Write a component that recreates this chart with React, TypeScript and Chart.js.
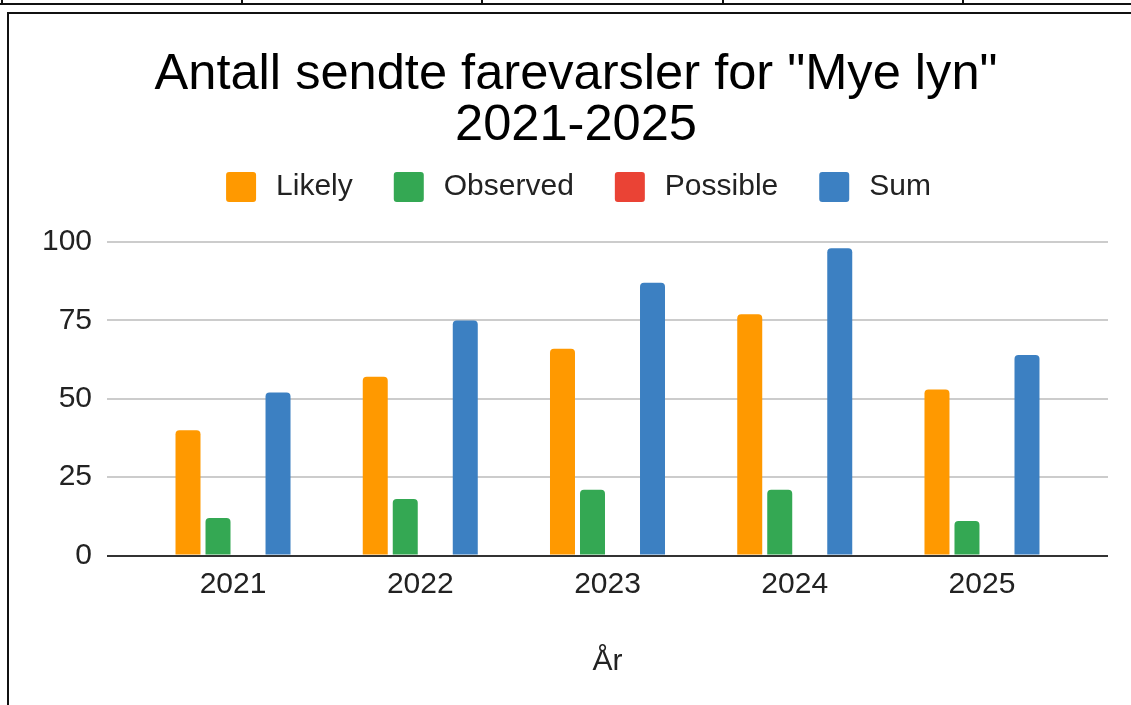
import React, { useEffect, useRef } from "react";
import { Chart, registerables } from "chart.js";

Chart.register(...registerables);

const YEARS = ["2021", "2022", "2023", "2024", "2025"];
const LIKELY = [40, 57, 66, 77, 53];
const OBSERVED = [12, 18, 21, 21, 11];
const POSSIBLE = [0, 0, 0, 0, 0];
const SUM = [52, 75, 87, 98, 64];
const Y_TICKS = [0, 25, 50, 75, 100];

const TITLE = ['Antall sendte farevarsler for "Mye lyn"', "2021-2025"];
const X_TITLE = "År";

const FONT = "'Liberation Sans', Arial, sans-serif";

export default function App() {
  const ref = useRef<HTMLCanvasElement | null>(null);

  useEffect(() => {
    if (!ref.current) return;
    const toPts = (arr: number[]) => arr.map((v, i) => ({ x: i, y: v }));
    const common = {
      categoryPercentage: 0.641,
      barPercentage: 0.833,
      borderRadius: 4,
      borderSkipped: "start" as const,
      borderWidth: 0,
    };
    const chart = new Chart(ref.current, {
      type: "bar",
      data: {
        datasets: [
          { label: "Likely", data: toPts(LIKELY), backgroundColor: "#ff9900", ...common },
          { label: "Observed", data: toPts(OBSERVED), backgroundColor: "#34a853", ...common },
          { label: "Possible", data: toPts(POSSIBLE), backgroundColor: "#ea4335", ...common },
          { label: "Sum", data: toPts(SUM), backgroundColor: "#3c80c2", ...common },
        ],
      },
      options: {
        animation: false,
        responsive: false,
        devicePixelRatio: 1,
        layout: { padding: { left: 35, right: 23, top: 0, bottom: 0 } },
        plugins: {
          tooltip: { enabled: false },
          title: {
            display: true,
            text: TITLE,
            color: "#000",
            font: { family: FONT, size: 50.6, weight: "normal", lineHeight: 1.008 },
            padding: { top: 36, bottom: -21 },
          },
          legend: {
            display: true,
            position: "top",
            labels: {
              color: "#222",
              font: { family: FONT, size: 30 },
              boxWidth: 40,
              boxHeight: 40,
              padding: 36,
              useBorderRadius: true,
              borderRadius: 8,
              generateLabels: (c: any) => {
                const items = Chart.defaults.plugins.legend.labels.generateLabels(c);
                return items.map((it: any) => ({
                  ...it,
                  lineWidth: 10,
                  strokeStyle: "#ffffff",
                  borderRadius: 8,
                }));
              },
            },
          },
        },
        scales: {
          x: {
            type: "linear",
            min: -0.673,
            max: 4.673,
            offset: false,
            afterBuildTicks: (s: any) => {
              s.ticks = YEARS.map((_, i) => ({ value: i }));
            },
            afterFit: (s: any) => {
              s.height = 149.5;
            },
            grid: { display: false, drawTicks: false },
            border: { display: false },
            ticks: {
              autoSkip: false,
              maxRotation: 0,
              padding: 11,
              color: "#222",
              font: { family: FONT, size: 30 },
              callback: (v: any) => YEARS[Math.round(Number(v))] ?? "",
            },
            title: {
              display: true,
              text: X_TITLE,
              color: "#222",
              font: { family: FONT, size: 30 },
              padding: { top: 0, bottom: 25 },
            },
          },
          y: {
            min: 0,
            max: 108,
            afterBuildTicks: (s: any) => {
              s.ticks = Y_TICKS.map((v) => ({ value: v }));
            },
            afterFit: (s: any) => {
              s.width = 63;
            },
            grid: {
              drawTicks: false,
              lineWidth: 2,
              color: (ctx: any) => (ctx.tick && ctx.tick.value === 0 ? "#333333" : "#cccccc"),
            },
            border: { display: false },
            ticks: {
              padding: 15,
              color: "#222",
              font: { family: FONT, size: 30 },
            },
          },
        },
      },
    });
    return () => chart.destroy();
  }, []);

  return (
    <div
      style={{
        position: "fixed",
        left: 0,
        top: 0,
        width: "100vw",
        height: "100vh",
        overflow: "hidden",
        background: "#fff",
      }}
    >
      <div style={{ position: "absolute", left: 0, top: 3, width: 1200, height: 2, background: "#111" }} />
      {[1, 241, 481, 722, 962].map((x) => (
        <div key={x} style={{ position: "absolute", left: x, top: 0, width: 2, height: 5, background: "#111" }} />
      ))}
      <div
        style={{
          position: "absolute",
          left: 7,
          top: 12,
          width: 1300,
          height: 900,
          border: "2px solid #111",
          boxSizing: "border-box",
        }}
      />
      <canvas
        ref={ref}
        width={1122}
        height={691}
        style={{ position: "absolute", left: 9, top: 14, width: 1122, height: 691, display: "block" }}
      />
    </div>
  );
}
